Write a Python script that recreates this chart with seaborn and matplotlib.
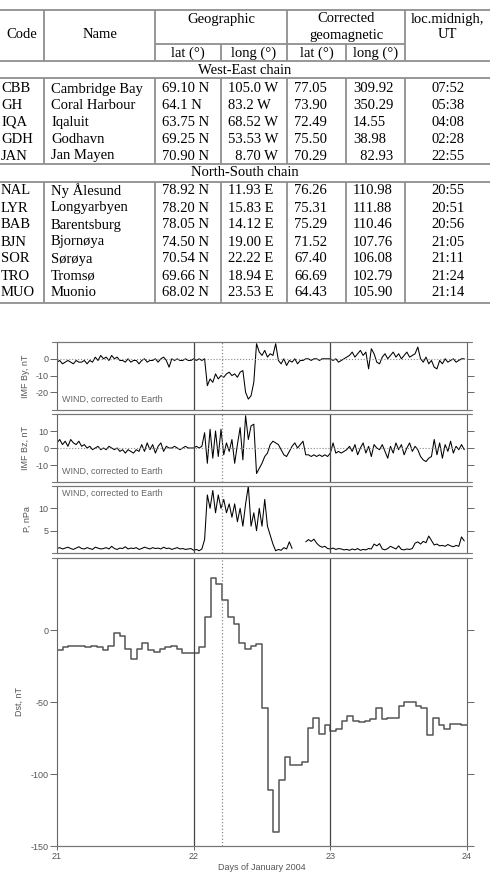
import numpy as np
import pandas as pd
import matplotlib
matplotlib.use('Agg')
import matplotlib.pyplot as plt
import seaborn as sns
from matplotlib.lines import Line2D

# --- station table ---
codes_we = ['CBB', 'GH', 'IQA', 'GDH', 'JAN']
names_we = ['Cambridge Bay', 'Coral Harbour', 'Iqaluit', 'Godhavn', 'Jan Mayen']
geo_lat_we = ['69.10 N', '64.1 N', '63.75 N', '69.25 N', '70.90 N']
geo_long_we = ['105.0 W', '83.2 W', '68.52 W', '53.53 W', '  8.70 W']
cgm_lat_we = ['77.05', '73.90', '72.49', '75.50', '70.29']
cgm_long_we = ['309.92', '350.29', '14.55', '38.98', '  82.93']
midnight_we = ['07:52', '05:38', '04:08', '02:28', '22:55']

codes_ns = ['NAL', 'LYR', 'BAB', 'BJN', 'SOR', 'TRO', 'MUO']
names_ns = ['Ny Ålesund', 'Longyarbyen', 'Barentsburg', 'Bjornøya', 'Sørøya', 'Tromsø', 'Muonio']
geo_lat_ns = ['78.92 N', '78.20 N', '78.05 N', '74.50 N', '70.54 N', '69.66 N', '68.02 N']
geo_long_ns = ['11.93 E', '15.83 E', '14.12 E', '19.00 E', '22.22 E', '18.94 E', '23.53 E']
cgm_lat_ns = ['76.26', '75.31', '75.29', '71.52', '67.40', '66.69', '64.43']
cgm_long_ns = ['110.98', '111.88', '110.46', '107.76', '106.08', '102.79', '105.90']
midnight_ns = ['20:55', '20:51', '20:56', '21:05', '21:11', '21:24', '21:14']

by_21 = [-2, -1, -3, -2, -1, -2, -3, -1, -2, -2,
         -1, -3, -1, -2, 1, -1, 2, 0, 1, -1,
         2, 0, 1, -1, -1, -2, 0, -2, -1, -1,
         -3, -1, 0, -2, -1, -1, 0, -2, 0, 1,
         -1, -5, 0, -1, 0, -1, -1, 0, -1, -1]
by_22 = [0, -1, 0, -1, 0, -16, -12, -14, -9, -12,
         -10, -11, -9, -8, -10, -9, -11, -8, -7, -20,
         -24, -22, -14, 9, 4, 2, 5, 1, 3, 2,
         9, -1, -3, 0, -4, -1, -2, 0, -3, -1,
         -1, 0, 0, -1, 0, 0, -1, 0, 0, 0]
by_23 = [0, -1, 0, -2, -1, 0, 1, 2, 4, 1,
         3, 5, 2, 4, -6, 6, 3, -2, -3, 1,
         3, 0, 2, 4, 1, 3, 0, 2, 4, 1,
         2, 3, 7, 0, -2, 1, -3, -1, -5, -6,
         -1, -3, 0, -2, -1, 0, -2, -1, 0, 0]

bz_21 = [3, 5, 2, 4, 1, 5, 3, 2, 4, 1,
         2, 0, 1, -1, 0, 1, -1, 0, -1, 1,
         0, -1, 0, -2, -1, -3, -1, -2, -3, -1,
         -2, 2, -2, 3, -1, 2, -3, 1, 3, -2,
         1, 0, 0, 1, 0, -1, 0, 1, 0, 0]
bz_22 = [0, 1, 0, 1, 9, -9, 11, -6, 10, -5,
         11, -4, 3, -2, 5, -9, 2, 12, -7, 19,
         5, 13, 14, -15, -12, -9, -5, -3, 2, 4,
         3, 2, -1, -4, -5, -2, 1, 3, 0, 2,
         4, -4, -4, -5, -4, -5, -4, -5, -4, -5]
bz_23 = [-3, 3, -3, -2, -3, -2, -1, 1, -2, 2,
         -4, 0, 3, -3, 1, -5, 2, 0, -1, 2,
         -2, -6, 1, -3, 3, -1, 2, -4, 0, 3,
         -2, 1, -1, -5, -7, -8, -6, -5, 5, -4,
         3, -6, 2, -2, 4, -3, 1, -1, 2, -1]

nan = np.nan
p_21 = [1.0, 1.2, 0.9, 1.1, 1.3, 1.0, 0.8, 1.1, 1.4, 1.0,
        0.9, 1.2, 1.0, 0.8, 1.3, 1.1, 0.9, 1.0, 1.2, 0.9,
        1.5, 1.0, 0.8, 1.1, 1.0, 1.4, 0.9, 1.1, 1.0, 1.2,
        0.8, 1.0, 1.3, 1.1, 0.9, 1.2, 1.0, 1.1, 0.9, 1.3,
        1.0, 1.1, 0.8, 1.0, 1.2, 0.9, 1.0, 0.8, 0.9, 1.0]
p_22 = [0.6, 0.8, 0.5, 0.9, 3, 13, 10, 14, 9, 13,
        10, 12, 9, 11, 8, 11, 7, 10, 6, 11,
        15, 6, 9, 5, 10, 6, 12, 6, 4, 2,
        0.5, 0.8, 0.6, 1.2, 0.9, 2.5, 1.0, nan, nan, nan,
        nan, 2.5, 3.0, 2.6, 3.1, 2.2, 1.6, 1.3, 1.5, 1.0]
p_23 = [0.9, 1.1, 0.8, 1.0, 0.9, 0.7, 0.8, 0.6, 0.9, 0.7,
        1.0, 0.6, 0.8, 0.7, 1.0, 0.9, 2.0, 1.6, 2.1, 0.9,
        0.7, 1.0, 1.5, 1.2, 0.9, 1.6, 0.8, 0.7, 0.9, 0.8,
        1.0, 2.2, 2.5, 2.0, 2.6, 2.3, 3.8, 2.8, 1.8, 2.0,
        1.6, 1.7, 1.5, 1.9, 1.6, 1.4, 1.7, 1.5, 3.6, 2.7]

# --- hourly Dst ---
dst_21 = [-14, -12, -11, -11, -11, -12, -11, -12, -14, -11, -2, -4,
          -13, -20, -13, -9, -14, -15, -13, -12, -11, -13, -16, -16]
dst_22 = [-16, -12, 9, 36, 32, 21, 9, 4, -9, -13, -11, -10,
          -54, -111, -140, -104, -88, -94, -94, -92, -68, -61, -72, -66]
dst_23 = [-70, -69, -63, -60, -63, -64, -63, -62, -54, -62, -61, -61,
          -53, -50, -50, -53, -54, -73, -61, -66, -69, -65, -65, -66]

day_ticks = [21, 22, 23, 24]
sc_onset = 22.21

H = 873.0
W = 490.0
GRID = '#8f8f8f'
TXT = '#555555'
SERIF = ['Liberation Serif', 'DejaVu Serif']


def draw_table(fig):
    ax = fig.add_axes([0, 1 - 315 / H, 1, 315 / H])
    ax.set_xlim(0, W)
    ax.set_ylim(315, 0)
    ax.axis('off')
    kw = dict(va='center', fontsize=10.5, family=SERIF, color='black')

    # header
    ax.text(22, 35, 'Code', ha='center', **kw)
    ax.text(100, 35, 'Name', ha='center', **kw)
    ax.text(221, 19, 'Geographic', ha='center', **kw)
    ax.text(346, 19, 'Corrected', ha='center', **kw)
    ax.text(346, 35, 'geomagnetic', ha='center', **kw)
    ax.text(447, 19, 'loc.midnigh,', ha='center', **kw)
    ax.text(447, 35, 'UT', ha='center', **kw)
    for x, s in [(188, 'lat (°)'), (254, 'long (°)'), (317, 'lat (°)'), (376, 'long (°)')]:
        ax.text(x, 53, s, ha='center', **kw)
    ax.text(245, 70, 'West-East chain', ha='center', **kw)
    ax.text(245, 173, 'North-South chain', ha='center', **kw)

    rows = [(89 + i * 16.75, codes_we[i], names_we[i], geo_lat_we[i], geo_long_we[i],
             cgm_lat_we[i], cgm_long_we[i], midnight_we[i]) for i in range(len(codes_we))]
    rows += [(191 + i * 17, codes_ns[i], names_ns[i], geo_lat_ns[i], geo_long_ns[i],
              cgm_lat_ns[i], cgm_long_ns[i], midnight_ns[i]) for i in range(len(codes_ns))]
    for y, c, n, la, lo, cla, clo, mn in rows:
        ax.text(1, y, c, ha='left', **kw)
        ax.text(51, y, n, ha='left', **kw)
        ax.text(162, y, la, ha='left', **kw)
        ax.text(228, y, lo, ha='left', **kw)
        ax.text(294, y, cla, ha='left', **kw)
        ax.text(353, y, clo, ha='left', **kw)
        ax.text(448, y, mn, ha='center', **kw)

    lkw = dict(color=GRID, lw=1.3)
    for y in [10, 61, 78, 164, 182, 303]:
        ax.hlines(y, 0, W, **lkw)
    ax.hlines(44, 155, 405, **lkw)
    body = [(78, 164), (182, 303)]
    for x in [44, 155, 287, 405]:
        ax.vlines(x, 10, 61, **lkw)
        for y0, y1 in body:
            ax.vlines(x, y0, y1, **lkw)
    for x in [221, 346]:
        ax.vlines(x, 44, 61, **lkw)
        for y0, y1 in body:
            ax.vlines(x, y0, y1, **lkw)


def panel(fig, top, bottom):
    left, right = 57, 467
    return fig.add_axes([left / W, 1 - bottom / H, (right - left) / W, (bottom - top) / H])


def style_axis(ax, ylabel, label_x, yticks, ylim, last=False):
    ax.set_xlim(21, 24)
    ax.set_ylim(*ylim)
    ax.set_yticks(yticks)
    ax.set_ylabel(ylabel, fontsize=6.5, color=TXT)
    ax.yaxis.set_label_coords(label_x, 0.5)
    ax.set_xlabel('')
    for s in ax.spines.values():
        s.set_color('#666666')
        s.set_linewidth(0.8)
    ax.tick_params(axis='y', direction='out', length=5, width=0.7, colors='#666666',
                   labelcolor=TXT, labelsize=6.5, pad=1, right=True, labelright=False)
    if last:
        ax.set_xticks(day_ticks)
        ax.tick_params(axis='x', direction='out', length=3, width=0.7, colors='#666666',
                       labelcolor=TXT, labelsize=6.5, pad=1.5)
        ax.set_xlabel('Days of January 2004', fontsize=6.5, color=TXT, labelpad=1)
    else:
        ax.tick_params(axis='x', bottom=False, labelbottom=False)
    for d in [22, 23]:
        ax.axvline(d, color='#444444', lw=0.9)
    ax.axvline(sc_onset, color='#888888', lw=0.9, ls=':')


def main():
    sns.set_theme(style='ticks')
    plt.rcParams['font.family'] = ['Liberation Sans', 'DejaVu Sans']
    plt.rcParams['axes.unicode_minus'] = False

    fig = plt.figure(figsize=(4.9, 8.73), dpi=100)
    draw_table(fig)

    t = np.round(21 + np.arange(150) * 0.02, 2)
    imf = pd.DataFrame({'day': t,
                        'by': by_21 + by_22 + by_23,
                        'bz': bz_21 + bz_22 + bz_23,
                        'p': p_21 + p_22 + p_23})
    dst = dst_21 + dst_22 + dst_23
    dst_df = pd.DataFrame({'day': 21 + np.arange(len(dst) + 1) / 24.0,
                           'dst': dst + [dst[-1]]})

    ax1 = panel(fig, 342, 410)
    ax2 = panel(fig, 414, 482)
    ax3 = panel(fig, 486, 553)
    ax4 = panel(fig, 558, 846)

    sns.lineplot(data=imf, x='day', y='by', ax=ax1, color='black', lw=0.75, estimator=None)
    ax1.axhline(0, color='#888888', lw=0.8, ls=':')
    style_axis(ax1, 'IMF By, nT', -0.066, [-20, -10, 0], (-30.5, 10))
    ax1.text(0.012, 0.15, 'WIND, corrected to Earth', transform=ax1.transAxes,
             fontsize=6.5, color='#666666', va='center')

    sns.lineplot(data=imf, x='day', y='bz', ax=ax2, color='black', lw=0.75, estimator=None)
    ax2.axhline(0, color='#888888', lw=0.8, ls=':')
    style_axis(ax2, 'IMF Bz, nT', -0.066, [-10, 0, 10], (-20, 20))
    ax2.text(0.012, 0.15, 'WIND, corrected to Earth', transform=ax2.transAxes,
             fontsize=6.5, color='#666666', va='center')

    # pressure has a data gap, draw the two pieces separately
    gap = imf['p'].isna()
    first = imf[~gap & (imf['day'] < 22.75)]
    second = imf[~gap & (imf['day'] > 22.75)]
    sns.lineplot(data=first, x='day', y='p', ax=ax3, color='black', lw=0.75, estimator=None)
    sns.lineplot(data=second, x='day', y='p', ax=ax3, color='black', lw=0.75, estimator=None)
    style_axis(ax3, 'P, nPa', -0.062, [5, 10], (0, 15))
    ax3.text(0.012, 0.89, 'WIND, corrected to Earth', transform=ax3.transAxes,
             fontsize=6.5, color='#666666', va='center')

    sns.lineplot(data=dst_df, x='day', y='dst', ax=ax4, color='#555555', lw=1.1,
                 estimator=None, drawstyle='steps-post')
    style_axis(ax4, 'Dst, nT', -0.08, [-150, -100, -50, 0], (-150, 50), last=True)

    # outer frame lines that run a little past the side spines
    for y in [342, 410, 414, 482, 486, 553, 558, 846]:
        fig.add_artist(Line2D([52 / W, 472 / W], [1 - y / H, 1 - y / H],
                              transform=fig.transFigure, color='#777777', lw=0.8))

    fig.savefig('out.png', dpi=100)
    plt.close(fig)


if __name__ == "__main__":
    main()
